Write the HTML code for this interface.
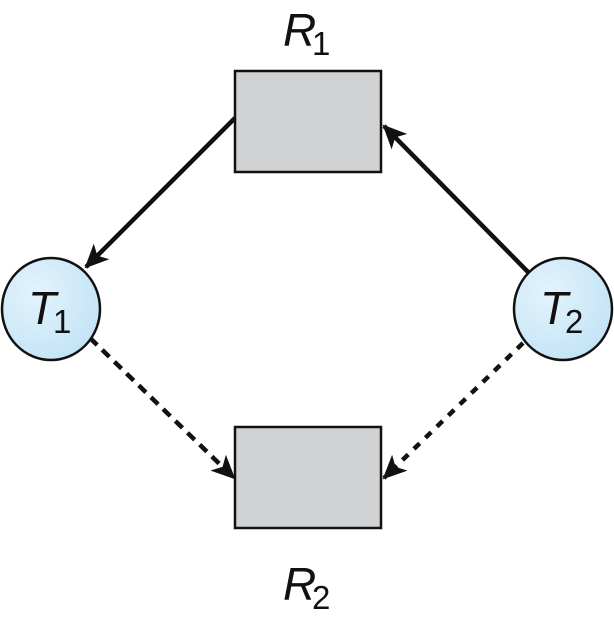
<!DOCTYPE html>
<html><head><style>body{margin:0;background:#fff}</style></head><body>
<svg width="614" height="619" xmlns="http://www.w3.org/2000/svg" font-family="Liberation Sans, sans-serif">
<defs>
<radialGradient id="g" cx="0.35" cy="0.35" r="0.8"><stop offset="0" stop-color="#e3f3fc"/><stop offset="1" stop-color="#bfe2f5"/></radialGradient>
<marker id="a" markerWidth="24" markerHeight="22" refX="22" refY="11" orient="auto" markerUnits="userSpaceOnUse" viewBox="0 0 24 22"><path d="M0,0 L24,11 L0,22 L6,11 z" fill="#111"/></marker>
</defs>
<rect x="235" y="71" width="146" height="101" fill="#d1d2d4" stroke="#111" stroke-width="2.5"/>
<rect x="235" y="427" width="146" height="101" fill="#d1d2d4" stroke="#111" stroke-width="2.5"/>
<g stroke="#111" stroke-width="4.5" fill="none">
<line x1="235" y1="118" x2="86" y2="267" marker-end="url(#a)"/>
<line x1="528" y1="272" x2="384" y2="126" marker-end="url(#a)"/>
<line x1="90" y1="338" x2="234" y2="478" stroke-dasharray="10,7" marker-end="url(#a)"/>
<line x1="523" y1="343" x2="384" y2="478" stroke-dasharray="8,8" marker-end="url(#a)"/>
</g>
<ellipse cx="51" cy="309" rx="49" ry="51" fill="url(#g)" stroke="#111" stroke-width="2.5"/>
<ellipse cx="563" cy="309" rx="49" ry="51" fill="url(#g)" stroke="#111" stroke-width="2.5"/>
<g fill="#111" font-style="italic" font-size="46">
<text x="28" y="324">T</text><text x="283" y="46">R</text><text x="540" y="324">T</text><text x="283" y="600">R</text>
</g>
<g fill="#111" font-size="33">
<text x="53" y="333">1</text><text x="312" y="55">1</text><text x="565" y="333">2</text><text x="312" y="609">2</text>
</g>
</svg>
</body></html>
